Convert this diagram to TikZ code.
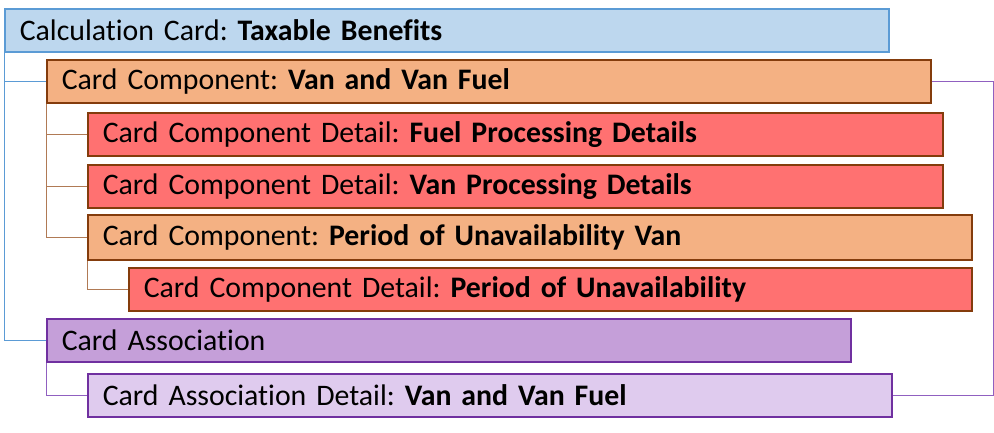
\documentclass[tikz,border=0pt]{standalone}
\usepackage{fontspec}
\setmainfont[Ligatures=NoCommon]{Carlito}
\usetikzlibrary{positioning}
\definecolor{calcfill}{HTML}{BDD7EE}
\definecolor{calcline}{HTML}{5B9BD5}
\definecolor{compfill}{HTML}{F4B183}
\definecolor{compline}{HTML}{843C0C}
\definecolor{detfill}{HTML}{FF7171}
\definecolor{assocfill}{HTML}{C59FD9}
\definecolor{assocdetfill}{HTML}{DFCBEE}
\definecolor{assocline}{HTML}{7030A0}
\definecolor{brownlink}{HTML}{B07A55}
\definecolor{purplelink}{HTML}{9060C0}
\frenchspacing

\begin{document}
\begin{tikzpicture}[x=1pt,y=-1pt,
    card/.style={draw,line width=1.6pt,anchor=north west,inner xsep=15pt,inner ysep=0pt,
        minimum height=43pt,align=left,font=\fontsize{29.8}{34}\selectfont},
    calccard/.style={card,draw=calcline,fill=calcfill},
    compcard/.style={card,draw=compline,fill=compfill},
    detcard/.style={card,draw=compline,fill=detfill},
    assoccard/.style={card,draw=assocline,fill=assocfill},
    assocdetcard/.style={card,draw=assocline,fill=assocdetfill},
    link/.style={line width=0.9pt}]
    \useasboundingbox (0,0) rectangle (994,432);

    \node[calccard,text width=854pt] (calc) at (4,8) {Calculation Card: \textbf{Taxable Benefits}};
    \node[compcard,text width=854pt] (vanfuel) at (46,59) {Card Component: \textbf{Van and Van Fuel}};
    \node[detcard,text width=825pt] (fuel) at (87,112) {Card Component Detail: \textbf{Fuel Processing Details}};
    \node[detcard,text width=825pt] (van) at (87,164) {Card Component Detail: \textbf{Van Processing Details}};
    \node[compcard,text width=854pt,minimum height=45pt] (period) at (87,214) {Card Component: \textbf{Period of Unavailability Van}};
    \node[detcard,text width=813pt] (perioddet) at (128,267) {Card Component Detail: \textbf{Period of Unavailability}};
    \node[assoccard,text width=774pt] (assoc) at (46,318) {Card Association};
    \node[assocdetcard,text width=774pt] (assocdet) at (87,373) {Card Association Detail: \textbf{Van and Van Fuel}};

    \draw[link,calcline] (calc.south west) |- (vanfuel.west);
    \draw[link,calcline] (calc.south west) |- (assoc.west);
    \draw[link,brownlink] (vanfuel.south west) |- (fuel.west);
    \draw[link,brownlink] (vanfuel.south west) |- (van.west);
    \draw[link,brownlink] (vanfuel.south west) |- (period.west);
    \draw[link,brownlink] (period.south west) |- (perioddet.west);
    \draw[link,purplelink] (assoc.south west) |- (assocdet.west);
    \draw[link,purplelink] (vanfuel.east) -- ++(62,0) |- (assocdet.east);
\end{tikzpicture}
\end{document}
